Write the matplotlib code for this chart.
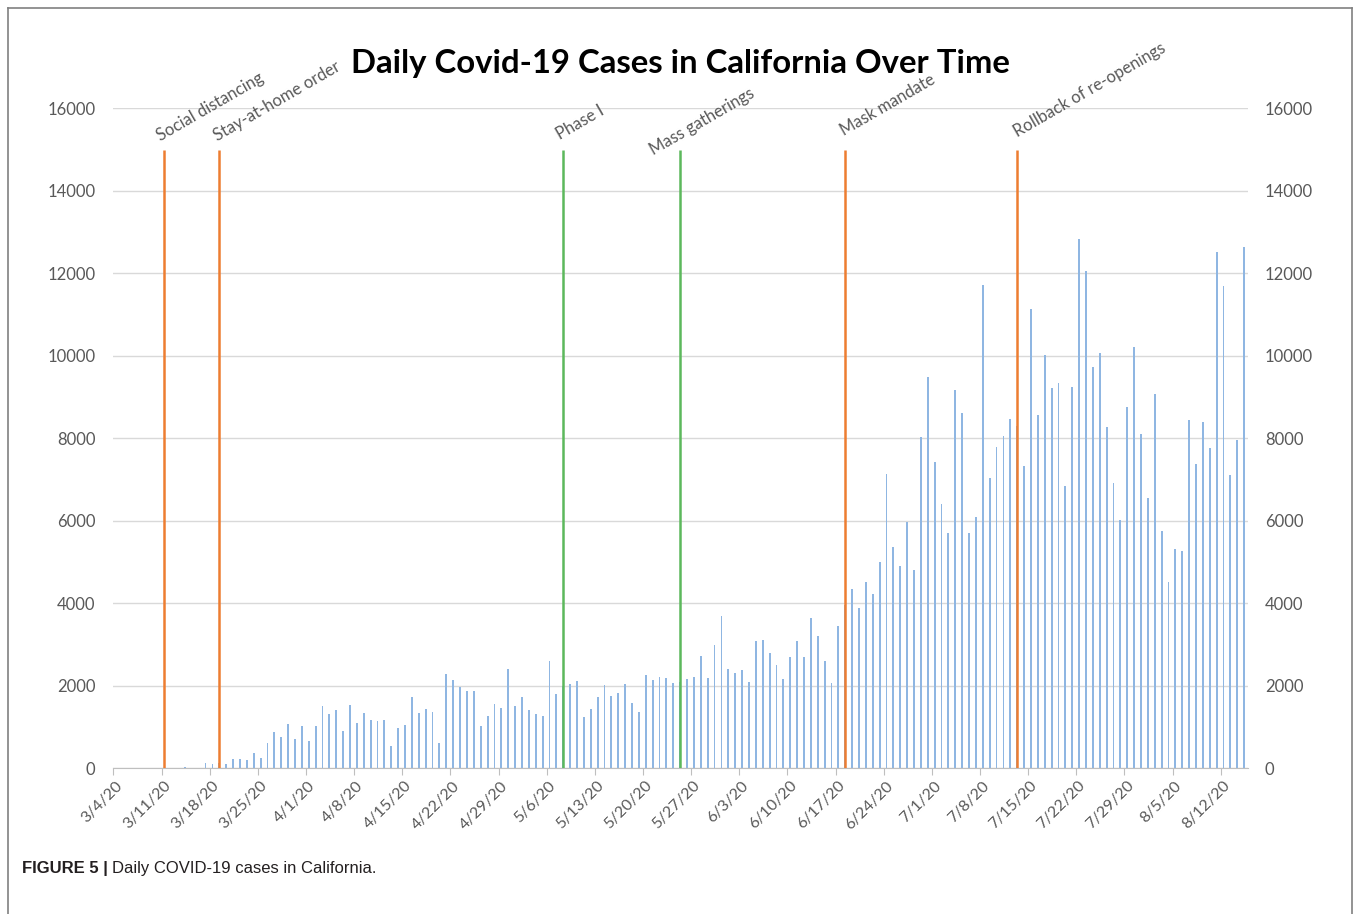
import numpy as np
import pandas as pd
import matplotlib
matplotlib.use('Agg')
import matplotlib.pyplot as plt
import matplotlib.transforms as mtransforms
from matplotlib.lines import Line2D

# daily new cases, one value per day starting 3/4/20
start_date = '2020-03-04'
cases = [
    0, 0, 0, 0, 0, 0, 0, 0, 0, 0,
    30, 0, 0, 137, 105, 120, 105, 218, 234, 200,
    364, 242, 622, 873, 751, 1067, 719, 1026, 654, 1026,
    1503, 1317, 1414, 913, 1535, 1091, 1333, 1172, 1155, 1164,
    533, 970, 1050, 1737, 1333, 1438, 1365, 622, 2278, 2141,
    1980, 1866, 1866, 1026, 1269, 1560, 1454, 2408, 1511, 1737,
    1406, 1317, 1260, 2602, 1794, 2000, 2036, 2109, 1236, 1430,
    1737, 2012, 1761, 1834, 2036, 1576, 1357, 2254, 2133, 2222,
    2182, 2060, 2100, 2157, 2222, 2723, 2182, 2990, 3693, 2408,
    2303, 2376, 2101, 3095, 3111, 2788, 2505, 2165, 2691, 3087,
    2691, 3644, 3208, 2594, 2077, 3450, 3950, 4337, 3888, 4510,
    4234, 5003, 7145, 5357, 4899, 5979, 4812, 8035, 9478, 7422,
    6411, 5694, 9176, 8614, 5694, 6091, 11724, 7042, 7793, 8052,
    8467, 8300, 7335, 11137, 8571, 10014, 9219, 9340, 6843, 9253,
    12830, 12053, 9737, 10066, 8268, 6912, 6022, 8761, 10212, 8096,
    6558, 9063, 5746, 4527, 5314, 5262, 8441, 7379, 8389, 7776,
    12528, 11681, 7119, 7949, 12632,
]

# policy events: label, date, colour
event_labels = ['Social distancing', 'Stay-at-home order', 'Phase I',
                'Mass gatherings', 'Mask mandate', 'Rollback of re-openings']
event_dates = ['2020-03-11', '2020-03-19', '2020-05-08',
               '2020-05-25', '2020-06-18', '2020-07-13']
event_colors = ['#ed7d31', '#ed7d31', '#5cb85c', '#5cb85c', '#ed7d31', '#ed7d31']
# label offsets (points) from the top of each line
event_offsets = [(-3, 6), (-1.5, 6), (-2, 7), (-19, -4), (-1, 10), (0, 9)]

yticks = list(range(0, 16001, 2000))

dates = pd.date_range(start_date, periods=len(cases), freq='D')
day_idx = np.arange(len(cases))
event_idx = [(pd.Timestamp(d) - dates[0]).days for d in event_dates]
tick_idx = day_idx[::7]
tick_labels = [f'{d.month}/{d.day}/{d.strftime("%y")}' for d in dates[::7]]

W, H = 1358, 914
fig = plt.figure(figsize=(W / 100, H / 100), dpi=100)
ax = fig.add_axes([113.4 / W, 1 - 768.3 / H, 1134.9 / W, 660 / H])

gray = '#595959'
shift = 0.4  # bars sit a bit right of the date ticks

ax.bar(day_idx + shift, cases, width=0.27, color='#8fb6e2', zorder=2)
ax.vlines(np.array(event_idx) + shift, 0, 15000, colors=event_colors, lw=1.8, zorder=3)

for lab, idx, off in zip(event_labels, event_idx, event_offsets):
    ax.annotate(lab, (idx + shift, 15000), xytext=off, textcoords='offset points',
                rotation=30, rotation_mode='anchor', ha='left', va='baseline',
                color=gray, fontsize=12, family='Lato', annotation_clip=False)

ax.set_xlim(0, 165)
ax.set_ylim(0, 16000)
ax.set_yticks(yticks)
ax.yaxis.grid(True, color='#d9d9d9', lw=1)
ax.set_axisbelow(True)
for s in ['top', 'right', 'left']:
    ax.spines[s].set_visible(False)
ax.spines['bottom'].set_color('#bfbfbf')
ax.tick_params(axis='y', length=0, pad=13, labelsize=12, labelcolor=gray)
ax.set_yticklabels([str(v) for v in yticks], family='Lato')

ax.set_xticks(tick_idx)
ax.set_xticklabels(tick_labels, rotation=45, ha='right', va='center',
                   rotation_mode='anchor', family='Lato')
ax.tick_params(axis='x', length=5, color='#bfbfbf', labelsize=11.5, labelcolor=gray, pad=6)
nudge = mtransforms.ScaledTranslation(0.07, 0, fig.dpi_scale_trans)
for lbl in ax.get_xticklabels():
    lbl.set_transform(lbl.get_transform() + nudge)

ax2 = ax.twinx()
ax2.set_ylim(0, 16000)
ax2.set_yticks(yticks)
ax2.set_yticklabels([str(v) for v in yticks], family='Lato')
for s in ax2.spines.values():
    s.set_visible(False)
ax2.tick_params(axis='y', length=0, pad=12, labelsize=12, labelcolor=gray)

fig.text(680 / W, 1 - 73 / H, 'Daily Covid-19 Cases in California Over Time',
         ha='center', va='baseline', fontsize=23.7, weight='bold', family='Lato', color='black')

# frame around the figure panel
fc = '#808080'
fig.add_artist(Line2D([8 / W, 8 / W], [0, 1 - 8 / H], color=fc, lw=1.2))
fig.add_artist(Line2D([8 / W, 1352 / W], [1 - 8 / H, 1 - 8 / H], color=fc, lw=1.2))
fig.add_artist(Line2D([1352 / W, 1352 / W], [0, 1 - 8 / H], color=fc, lw=1.2))

# caption
cap1 = fig.text(22 / W, 1 - 873 / H, 'FIGURE 5 |', ha='left', va='baseline',
                fontsize=12, weight='bold', family='Liberation Sans', color='#231f20')
fig.canvas.draw()
bb = cap1.get_window_extent(fig.canvas.get_renderer())
fig.text(bb.x1 / W + 4 / W, 1 - 873 / H, 'Daily COVID-19 cases in California.',
         ha='left', va='baseline', fontsize=12, family='Liberation Sans', color='#231f20')

fig.savefig('out.png', dpi=100)
